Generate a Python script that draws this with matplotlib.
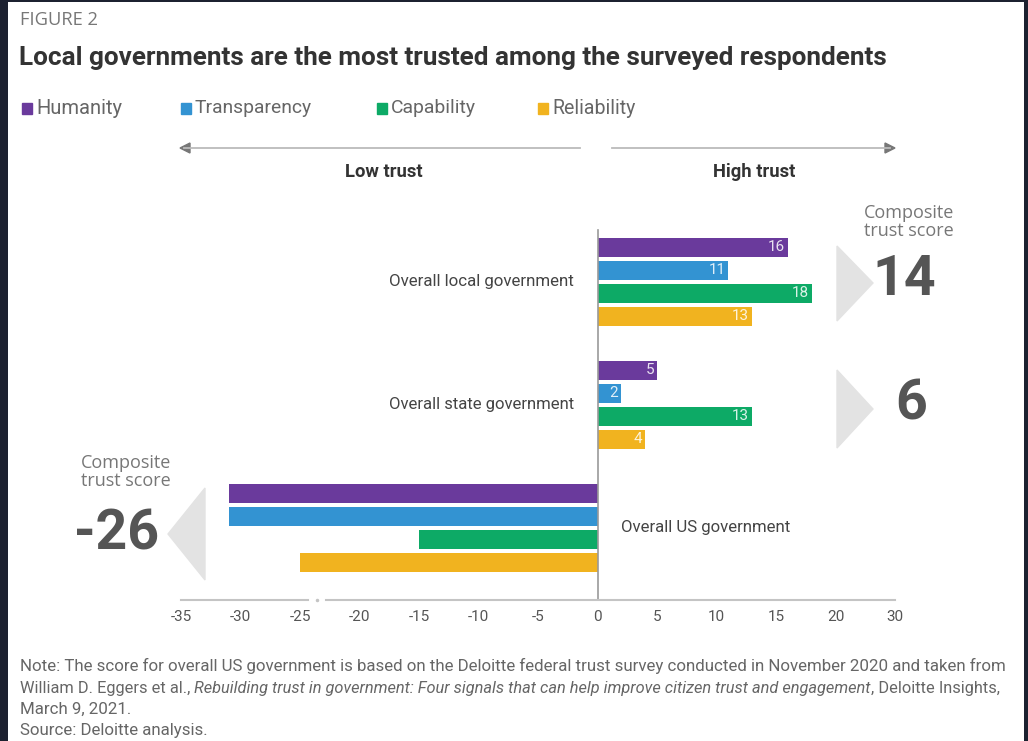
import matplotlib
matplotlib.use("Agg")
import matplotlib.pyplot as plt
from matplotlib import font_manager
from matplotlib.patches import Polygon, Rectangle

names = {f.name for f in font_manager.fontManager.ttflist}
NARROW = "Roboto" if "Roboto" in names else "DejaVu Sans"
PLAIN = "Open Sans" if "Open Sans" in names else "DejaVu Sans"

# data
groups = ["Overall local government", "Overall state government", "Overall US government"]
series = ["Humanity", "Transparency", "Capability", "Reliability"]
colors = ["#6a3a9c", "#3393d2", "#0daa66", "#f1b31f"]
values = {
    "Humanity": [16, 5, -31],
    "Transparency": [11, 2, -31],
    "Capability": [18, 13, -15],
    "Reliability": [13, 4, -25],
}
composite = [14, 6, -26]
tick_pos = [-35, -30, -25, -20, -15, -10, -5, 0, 5, 10, 15, 20, 25]
tick_labels = ["-35", "-30", "-25", "-20", "-15", "-10", "-5", "0", "5", "10", "15", "20", "30"]

W, H = 1028, 741
fig = plt.figure(figsize=(W / 100, H / 100), dpi=100)
fig.patch.set_facecolor("#1c2130")
renderer = fig.canvas.get_renderer()

# white page inside the dark frame
page = fig.add_axes([8 / W, 0, (1024 - 8) / W, (H - 2) / H])
page.set_facecolor("white")
page.set_xticks([])
page.set_yticks([])
for s in page.spines.values():
    s.set_visible(False)


def px(x, y):
    return x / W, 1 - y / H


def fit(t, width):
    # scale the font so the text spans the given width in pixels
    w = t.get_window_extent(renderer).width
    t.set_fontsize(t.get_fontsize() * width / w)
    return t


grey = "#555555"
note_c = "#666666"

fit(fig.text(*px(20, 20), "FIGURE 2", fontsize=11, color="#777777", family=PLAIN, va="center"), 78)
fit(fig.text(*px(19, 58), "Local governments are the most trusted among the surveyed respondents",
             fontsize=18, color="#333333", family=NARROW, weight="bold", va="center"), 870)

# legend
leg_x = [22, 181, 377, 538]
leg_w = [86, 117, 85, 83]
for lx, lw, name, c in zip(leg_x, leg_w, series, colors):
    fig.patches.append(Rectangle(px(lx, 114), 10 / W, 11 / H, transform=fig.transFigure,
                                 color=c, figure=fig))
    fit(fig.text(*px(lx + 14, 108), name, fontsize=12, color="#666666", family=NARROW,
                 va="center"), lw)

# main axes: x from -35 (px 181) to 25 (px 895), y slots of 23 px from px 230 to 600
ax_l, ax_r, ax_t, ax_b = 181, 895, 230, 600
ax = fig.add_axes([ax_l / W, 1 - ax_b / H, (ax_r - ax_l) / W, (ax_b - ax_t) / H])
ax.patch.set_alpha(0)
slot = 23.0
ax.set_xlim(-35, 25)
ax.set_ylim((ax_b - ax_t) / slot, 0)
ax.axis("off")

first = 0.76
gap = 123 / slot
for i, (name, c) in enumerate(zip(series, colors)):
    ys = [first + g * gap + i for g in range(len(groups))]
    vals = values[name]
    ax.barh(ys, vals, height=19 / slot, color=c, edgecolor="none")
    for y, v in zip(ys, vals):
        if v > 0:
            ax.text(v - 0.25, y, str(v), ha="right", va="center", color="white",
                    fontsize=11, family=NARROW, alpha=0.85)

ybot = (ax_b - ax_t) / slot
# zero line and broken x axis
ax.plot([0, 0], [0, ybot], color="#999999", lw=1.2, clip_on=False)
ax.plot([-35, -24.3], [ybot, ybot], color="#c4c4c4", lw=1.5, clip_on=False)
ax.plot([-22.8, 25], [ybot, ybot], color="#c4c4c4", lw=1.5, clip_on=False)
ax.plot([-23.55], [ybot], marker="o", ms=1.5, color="#c4c4c4", clip_on=False)
for t, lab in zip(tick_pos, tick_labels):
    ax.text(t, ybot + 17 / slot, lab, ha="center", va="center", fontsize=11,
            color=grey, family=NARROW)

# group labels
lab_kw = dict(va="center", fontsize=13, color="#444444", family=NARROW)
fit(ax.text(-2, first + 1.5, groups[0], ha="right", **lab_kw), 185)
fit(ax.text(-2, first + gap + 1.5, groups[1], ha="right", **lab_kw), 185)
fit(ax.text(2, first + 2 * gap + 1.5, groups[2], ha="left", **lab_kw), 170)

# low / high trust arrows
fig.add_artist(plt.Line2D([184 / W, 580 / W], [1 - 148 / H] * 2, color="#bbbbbb", lw=1.3))
fig.add_artist(plt.Line2D([612 / W, 890 / W], [1 - 148 / H] * 2, color="#bbbbbb", lw=1.3))
fig.patches.append(Polygon([px(180, 148), px(190, 143), px(190, 153)], closed=True,
                           transform=fig.transFigure, color="#777777", figure=fig))
fig.patches.append(Polygon([px(895, 148), px(885, 143), px(885, 153)], closed=True,
                           transform=fig.transFigure, color="#777777", figure=fig))
trust_kw = dict(ha="center", va="center", fontsize=14, weight="bold", color="#333333", family=NARROW)
fit(fig.text(*px(384, 172), "Low trust", **trust_kw), 78)
fit(fig.text(*px(754, 172), "High trust", **trust_kw), 82)

# composite score call-outs
tri = "#e3e3e3"
fig.patches.append(Polygon([px(837, 246), px(873, 283), px(837, 321)], closed=True,
                           transform=fig.transFigure, color=tri, figure=fig))
fig.patches.append(Polygon([px(837, 370), px(873, 409), px(837, 448)], closed=True,
                           transform=fig.transFigure, color=tri, figure=fig))
fig.patches.append(Polygon([px(205, 488), px(168, 534), px(205, 580)], closed=True,
                           transform=fig.transFigure, color=tri, figure=fig))

fig.text(*px(909, 222), "Composite\ntrust score", ha="center", va="center", fontsize=13,
         color="#777777", family=PLAIN, linespacing=1.05)
fig.text(*px(126, 472), "Composite\ntrust score", ha="center", va="center", fontsize=13,
         color="#777777", family=PLAIN, linespacing=1.05)
big_kw = dict(ha="center", va="center", fontsize=40, weight="bold", color=grey, family=NARROW)
fig.text(*px(904, 280), str(composite[0]), **big_kw)
fig.text(*px(911, 404), str(composite[1]), **big_kw)
fig.text(*px(117, 534), str(composite[2]), **big_kw)

# footnote
note_y = [666, 688, 709, 730]
note_kw = dict(color=note_c, family=NARROW, va="center")
l1 = fit(fig.text(*px(20, note_y[0]), "Note: The score for overall US government is based on the Deloitte "
                  "federal trust survey conducted in November 2020 and taken from", fontsize=12,
                  **note_kw), 990)
fs = l1.get_fontsize()
parts = [("William D. Eggers et al., ", "normal"),
         ("Rebuilding trust in government: Four signals that can help improve citizen trust "
          "and engagement", "italic"),
         (", Deloitte Insights,", "normal")]
pieces = [fig.text(0, 1 - note_y[1] / H, txt, fontsize=fs, style=st, **note_kw) for txt, st in parts]
total = sum(p.get_window_extent(renderer).width for p in pieces)
x = 20
for p in pieces:
    p.set_fontsize(fs * 978 / total)
    p.set_x(x / W)
    x += p.get_window_extent(renderer).width
fig.text(*px(20, note_y[2]), "March 9, 2021.", fontsize=fs, **note_kw)
fig.text(*px(20, note_y[3]), "Source: Deloitte analysis.", fontsize=fs, **note_kw)

fig.savefig("out.png", dpi=100, facecolor=fig.get_facecolor())
